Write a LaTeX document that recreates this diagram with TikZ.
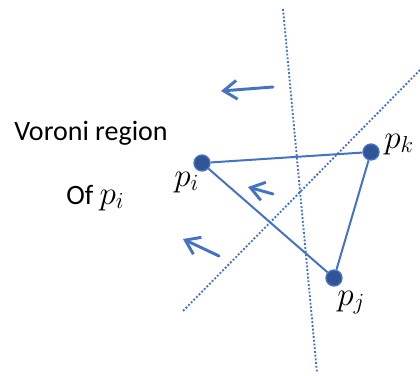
\documentclass[tikz,border=0pt]{standalone}
\usepackage{fontspec}
\setmainfont{Carlito}
\usetikzlibrary{arrows.meta, positioning}
\definecolor{lineblue}{HTML}{4472C4}
\definecolor{dotblue}{HTML}{2F5597}

\begin{document}
\begin{tikzpicture}[x=0.75pt, y=-0.75pt, >={Straight Barb[length=10pt, width=14pt]},
    site/.style={circle, draw=lineblue, line width=1pt, fill=dotblue,
                 inner sep=0pt, minimum size=12pt},
    edge/.style={lineblue, line width=1.5pt},
    bisector/.style={lineblue, line width=1.4pt, dash pattern=on 1.4pt off 1.4pt},
    push/.style={->, lineblue, line width=2.2pt, line cap=round},
    lbl/.style={font=\fontsize{21}{24}\selectfont, inner sep=0pt},
    mlbl/.style={font=\fontsize{25}{28}\selectfont, inner sep=0pt}]
  \useasboundingbox (0, 0) rectangle (420, 375);

  % Sites
  \node[site] (pi) at (202, 163) {};
  \node[site] (pj) at (334, 278) {};
  \node[site] (pk) at (371, 152) {};

  % Site labels
  \node[mlbl, anchor=base west] (pilbl) at (174, 186) {$p_i$};
  \node[mlbl, anchor=base west] (pjlbl) at (337, 305) {$p_j$};
  \node[mlbl, anchor=base west] (pklbl) at (384, 148) {$p_k$};

  % Region text
  \node[lbl, anchor=base west] (region) at (14, 140) {Voroni region};
  \node[lbl, anchor=base west] (of) at (66, 204) {Of \fontsize{25}{28}\selectfont$p_i$};

  % Triangle
  \draw[edge] (pi) -- (pk);
  \draw[edge] (pk) -- (pj);
  \draw[edge] (pj) -- (pi);

  % Bisectors
  \coordinate (vtop) at (283, 9);
  \coordinate (vbot) at (317, 373);
  \coordinate (dtop) at (420, 70);
  \coordinate (dbot) at (182, 312);
  \draw[bisector] (vtop) -- (vbot);
  \draw[bisector] (dtop) -- (dbot);

  % Direction arrows
  \coordinate (a1) at (273, 87);
  \coordinate (b1) at (221, 91);
  \coordinate (a2) at (273, 194);
  \coordinate (b2) at (248, 187);
  \coordinate (a3) at (219, 256);
  \coordinate (b3) at (183, 239);
  \draw[push] (a1) -- (b1);
  \draw[push] (a2) -- (b2);
  \draw[push] (a3) -- (b3);
\end{tikzpicture}
\end{document}
